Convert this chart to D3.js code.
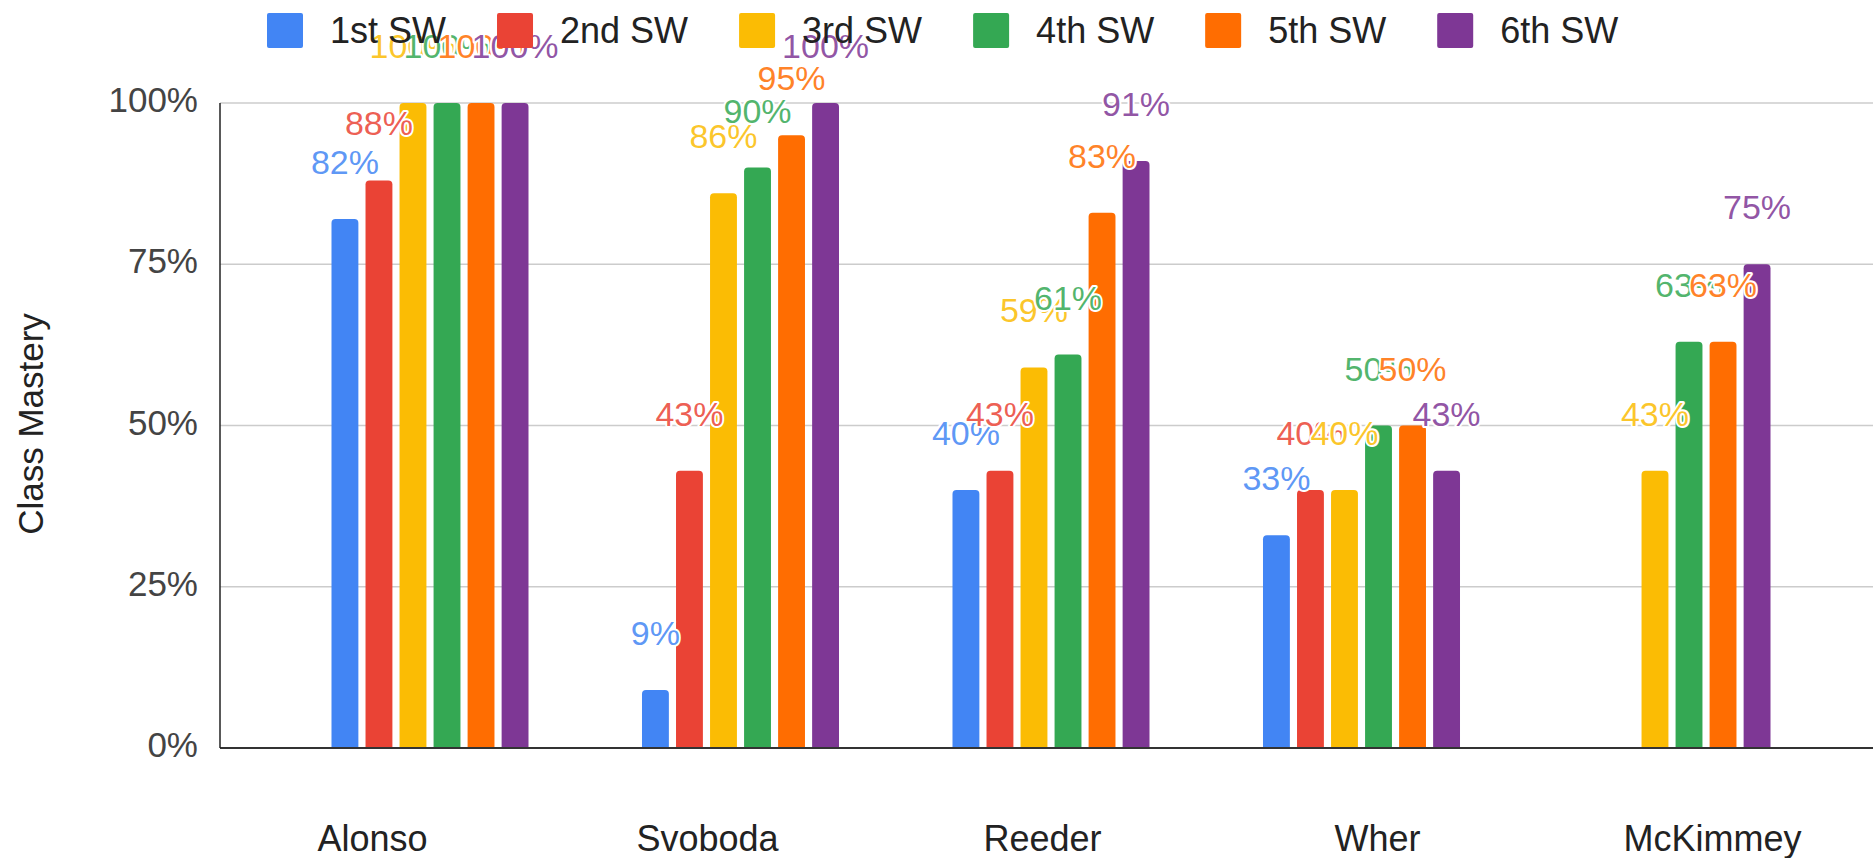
<!DOCTYPE html>
<html>
<head>
<meta charset="utf-8">
<script src="https://cdn.jsdelivr.net/npm/d3@7"></script>
<style>
  body { margin: 0; background: #fff; }
  svg { display: block; font-family: "Liberation Sans", Arial, sans-serif; }
</style>
</head>
<body>
<div id="container"></div>
<script>
const categories = ['Alonso', 'Svoboda', 'Reeder', 'Wher', 'McKimmey'];
const seriesNames = ['1st SW', '2nd SW', '3rd SW', '4th SW', '5th SW', '6th SW'];
const sw1 = [0.82, 0.09, 0.40, 0.33, null];
const sw2 = [0.88, 0.43, 0.43, 0.40, null];
const sw3 = [1.00, 0.86, 0.59, 0.40, 0.43];
const sw4 = [1.00, 0.90, 0.61, 0.50, 0.63];
const sw5 = [1.00, 0.95, 0.83, 0.50, 0.63];
const sw6 = [1.00, 1.00, 0.91, 0.43, 0.75];
const yTicks = [0, 0.25, 0.5, 0.75, 1];
const colors = ['#4285f4', '#ea4335', '#fbbc04', '#34a853', '#ff6d01', '#7e3795'];

const allSeries = [sw1, sw2, sw3, sw4, sw5, sw6];

const width = 1873;
const height = 858;
const axisX = 220;

const svg = d3.select('#container')
    .append('svg')
    .attr('width', width)
    .attr('height', height);

const y = d3.scaleLinear().domain([0, 1]).range([748, 103]);

// groups of bars
const x0 = d3.scaleBand()
    .domain(categories)
    .range([274.75, 1827.25])
    .paddingInner(0.3655)
    .paddingOuter(0.18275);

const x1 = d3.scaleBand()
    .domain(seriesNames)
    .range([0, x0.bandwidth()])
    .paddingInner(0.21)
    .paddingOuter(0);

// axis labels sit on their own, slightly wider spacing
const xLabel = d3.scalePoint()
    .domain(categories)
    .range([205, 1880])
    .padding(0.5);

const color = d3.scaleOrdinal(seriesNames, colors);
const pct = d3.format('.0%');

// gridlines
svg.append('g')
    .selectAll('line')
    .data(yTicks.filter(d => d > 0))
    .join('line')
    .attr('x1', axisX)
    .attr('x2', width)
    .attr('y1', d => y(d))
    .attr('y2', d => y(d))
    .attr('stroke', '#cccccc')
    .attr('stroke-width', 1.5);

// y tick labels
svg.append('g')
    .selectAll('text')
    .data(yTicks)
    .join('text')
    .attr('x', axisX - 22)
    .attr('y', d => y(d) + 9)
    .attr('text-anchor', 'end')
    .attr('font-size', 35)
    .attr('fill', '#444')
    .text(d => pct(d));

// y axis title
svg.append('text')
    .attr('transform', 'translate(43,424) rotate(-90)')
    .attr('text-anchor', 'middle')
    .attr('font-size', 35)
    .attr('fill', '#222')
    .text('Class Mastery');

const rows = [];
categories.forEach((c, i) => {
    seriesNames.forEach((s, j) => {
        const v = allSeries[j][i];
        if (v != null) rows.push({ category: c, series: s, value: v });
    });
});

const barPath = d => {
    const x = x0(d.category) + x1(d.series);
    const w = x1.bandwidth();
    const top = y(d.value);
    const bottom = y(0);
    const r = 4;
    return `M${x},${bottom} V${top + r} Q${x},${top} ${x + r},${top} H${x + w - r} Q${x + w},${top} ${x + w},${top + r} V${bottom} Z`;
};

svg.append('g')
    .selectAll('path')
    .data(rows)
    .join('path')
    .attr('d', barPath)
    .attr('fill', d => color(d.series));

// baseline and y axis line
svg.append('line')
    .attr('x1', axisX).attr('x2', width)
    .attr('y1', y(0)).attr('y2', y(0))
    .attr('stroke', '#333').attr('stroke-width', 2);
svg.append('line')
    .attr('x1', axisX).attr('x2', axisX)
    .attr('y1', y(1)).attr('y2', y(0))
    .attr('stroke', '#222').attr('stroke-width', 1.5);

// value annotations, later series drawn on top
svg.append('g')
    .selectAll('text')
    .data(rows)
    .join('text')
    .attr('x', d => x0(d.category) + x1(d.series) + x1.bandwidth() / 2)
    .attr('y', d => y(d.value) - 45)
    .attr('text-anchor', 'middle')
    .attr('font-size', 34)
    .attr('fill', d => color(d.series))
    .attr('fill-opacity', 0.85)
    .attr('stroke', '#fff')
    .attr('stroke-width', 4)
    .attr('stroke-linejoin', 'round')
    .attr('paint-order', 'stroke')
    .text(d => pct(d.value));

// category labels
svg.append('g')
    .selectAll('text')
    .data(categories)
    .join('text')
    .attr('x', d => xLabel(d))
    .attr('y', 851)
    .attr('text-anchor', 'middle')
    .attr('font-size', 36)
    .attr('fill', '#222')
    .text(d => d);

// legend
const legend = svg.append('g').attr('transform', 'translate(267,13)');
let lx = 0;
seriesNames.forEach(s => {
    const item = legend.append('g').attr('transform', `translate(${lx},0)`);
    item.append('rect')
        .attr('width', 36)
        .attr('height', 35)
        .attr('rx', 2)
        .attr('fill', color(s));
    const t = item.append('text')
        .attr('x', 63)
        .attr('y', 29.5)
        .attr('font-size', 36)
        .attr('fill', '#222')
        .text(s);
    lx += 63 + t.node().getComputedTextLength() + 51;
});
</script>
</body>
</html>
